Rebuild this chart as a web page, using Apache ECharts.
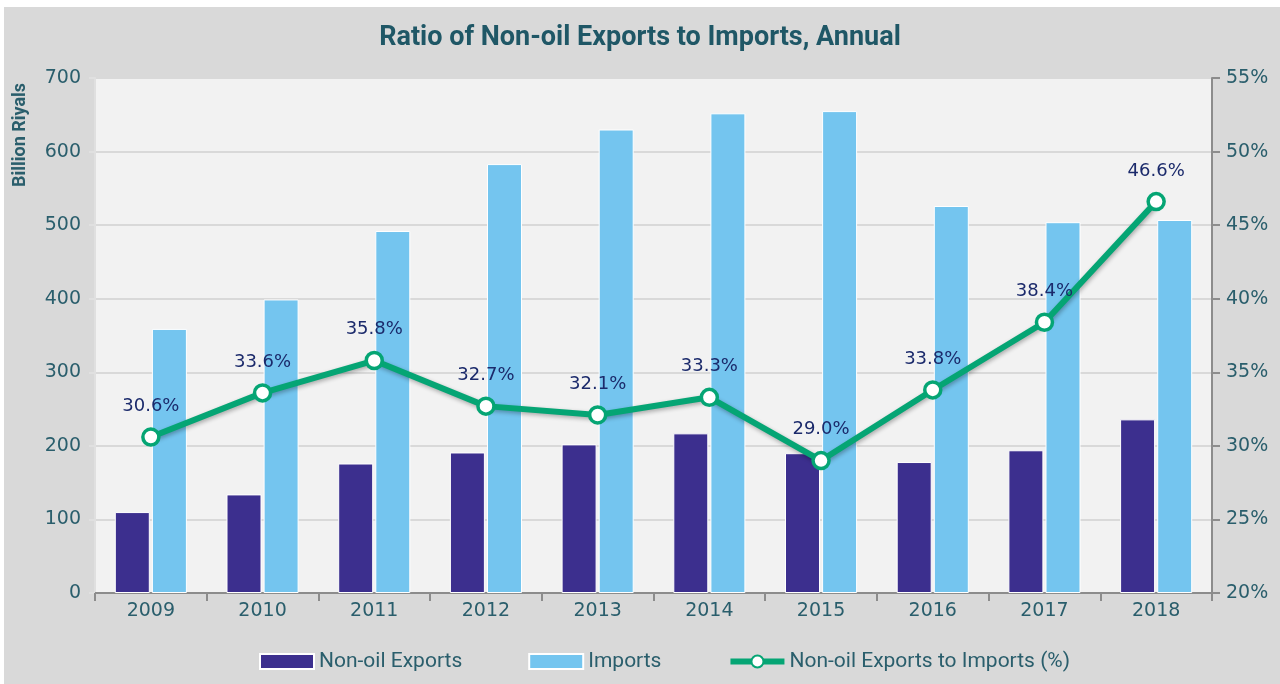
<!DOCTYPE html>
<html>
<head>
<meta charset="utf-8">
<script src="https://cdn.jsdelivr.net/npm/echarts@6/dist/echarts.min.js"></script>
<style>
  html, body { margin: 0; padding: 0; background: #ffffff; }
  #chart { width: 1280px; height: 684px; }
</style>
</head>
<body>
<div id="chart"></div>
<script>
// Annual figures (billion riyals) and the exports-to-imports ratio (%)
const years = ['2009', '2010', '2011', '2012', '2013', '2014', '2015', '2016', '2017', '2018'];
const nonOilExports = [110, 134, 176, 191, 202, 217, 190, 178, 194, 236];
const imports = [359, 399, 492, 583, 630, 652, 655, 526, 504, 507];
const ratioPct = [30.6, 33.6, 35.8, 32.7, 32.1, 33.3, 29.0, 33.8, 38.4, 46.6];

const tealText = '#2a5e6c';
const labelFont = 'DejaVu Sans';
const narrowFont = 'Roboto';
const green = '#05a574';

const chart = echarts.init(document.getElementById('chart'));
chart.setOption({
  backgroundColor: '#ffffff',
  animation: false,
  graphic: [
    { type: 'rect', left: 4, top: 7, shape: { width: 1276, height: 677 }, style: { fill: '#d9d9d9' }, z: -10 },
    {
      type: 'text', x: 20, y: 135, rotation: Math.PI / 2,
      style: { text: 'Billion Riyals', font: 'bold 18px ' + narrowFont, fill: tealText, align: 'center', verticalAlign: 'middle' }
    }
  ],
  title: {
    text: 'Ratio of Non-oil Exports to Imports, Annual',
    left: 'center', top: 20,
    textStyle: { fontFamily: narrowFont, fontWeight: 'bold', fontSize: 27, color: '#1f5766' }
  },
  grid: { left: 95, right: 68, top: 78, bottom: 91, show: true, backgroundColor: '#f2f2f2', borderWidth: 0 },
  legend: {
    bottom: 7, left: 254, itemGap: 66, itemWidth: 54, itemHeight: 15,
    textStyle: { fontFamily: narrowFont, fontSize: 21, color: tealText },
    data: [
      { name: 'Non-oil Exports', icon: 'rect', itemStyle: { borderColor: '#ffffff', borderWidth: 2 } },
      { name: 'Imports', icon: 'rect', itemStyle: { borderColor: '#ffffff', borderWidth: 2 } },
      { name: 'Non-oil Exports to Imports (%)', lineStyle: { width: 6, color: green } }
    ]
  },
  xAxis: {
    type: 'category', data: years,
    axisLine: { lineStyle: { color: '#8c8c8c', width: 2 } },
    axisTick: { show: true, alignWithLabel: false, length: 8, lineStyle: { color: '#8c8c8c', width: 2 } },
    axisLabel: { fontFamily: labelFont, fontSize: 19, color: tealText, margin: 9 }
  },
  yAxis: [
    {
      type: 'value', min: 0, max: 700, interval: 100,
      axisLine: { show: true, lineStyle: { color: '#e0e0e0', width: 2 } },
      axisTick: { show: true, length: 6, lineStyle: { color: '#e0e0e0', width: 2 } },
      axisLabel: { fontFamily: labelFont, fontSize: 19, color: tealText, margin: 14 },
      splitLine: { lineStyle: { color: '#d9d9d9', width: 2 } }
    },
    {
      type: 'value', min: 20, max: 55, interval: 5, position: 'right',
      axisLine: { show: true, lineStyle: { color: '#8c8c8c', width: 2 } },
      axisTick: { show: true, length: 8, lineStyle: { color: '#8c8c8c', width: 2 } },
      axisLabel: { fontFamily: labelFont, fontSize: 19, color: tealText, margin: 14, formatter: '{value}%' },
      splitLine: { show: false }
    }
  ],
  series: [
    {
      name: 'Non-oil Exports', type: 'bar', data: nonOilExports,
      barWidth: 35, barGap: '6%',
      itemStyle: { color: '#3c2f8e', borderColor: '#ffffff', borderWidth: 1 }
    },
    {
      name: 'Imports', type: 'bar', data: imports,
      barWidth: 35,
      itemStyle: { color: '#74c5ef', borderColor: '#ffffff', borderWidth: 1 }
    },
    {
      name: 'Non-oil Exports to Imports (%)', type: 'line', yAxisIndex: 1, data: ratioPct,
      symbol: 'circle', symbolSize: 16,
      lineStyle: { color: green, width: 6, shadowColor: 'rgba(0,0,0,0.3)', shadowBlur: 4, shadowOffsetX: 1, shadowOffsetY: 2 },
      itemStyle: { color: '#ffffff', borderColor: green, borderWidth: 3.5 },
      label: {
        show: true, position: 'top', distance: 12,
        fontFamily: labelFont, fontSize: 18, color: '#1b2a6b',
        formatter: p => p.value.toFixed(1) + '%'
      },
      z: 5
    }
  ]
});
</script>
</body>
</html>
